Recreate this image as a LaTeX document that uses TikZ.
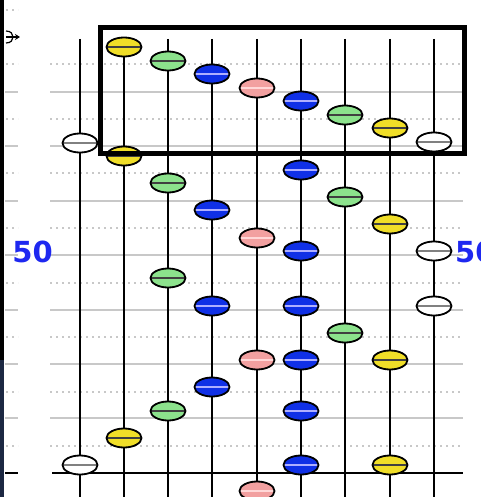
\documentclass[tikz,border=0pt]{standalone}
\usepackage{xcolor}
\usepackage{fontspec}
\newfontfamily\labelfont{DejaVu Sans}
\usepackage{tikz}
\usetikzlibrary{positioning,calc,arrows.meta,shapes.geometric}

\definecolor{beadyellow}{RGB}{240,222,40}
\definecolor{beadgreen}{RGB}{140,226,140}
\definecolor{beadblue}{RGB}{16,48,230}
\definecolor{beadpink}{RGB}{242,160,160}
\definecolor{stripeblue}{RGB}{175,175,255}
\definecolor{stripepink}{RGB}{255,215,215}
\definecolor{gridgray}{RGB}{200,200,200}
\definecolor{labelblue}{RGB}{30,40,240}
\definecolor{edgenavy}{RGB}{28,40,66}

\tikzset{
  bead/.style 2 args={ellipse, draw=black, line width=1.8pt, fill=#1,
    minimum width=35pt, minimum height=19pt, inner sep=0pt,
    path picture={\draw[#2, line width=1.8pt]
      (path picture bounding box.west) -- (path picture bounding box.east);}},
  ybead/.style={bead={beadyellow}{black!75}},
  gbead/.style={bead={beadgreen}{black!75}},
  bbead/.style={bead={beadblue}{stripeblue}},
  pbead/.style={bead={beadpink}{stripepink}},
  wbead/.style={bead={white}{gray}},
  gridline/.style={gridgray, line width=2pt},
  griddots/.style={gridgray, line width=2pt, dash pattern=on 2pt off 4pt},
  stringline/.style={black, line width=2pt},
  scalelabel/.style={labelblue, inner sep=0pt, draw=labelblue, line width=0.6pt,
    font=\labelfont\fontsize{31}{31}\selectfont, text=labelblue},
}

\begin{document}
\begin{tikzpicture}[x=1pt,y=-1pt]
		\useasboundingbox (0,0) rectangle (480,497);
		\clip (0,0) rectangle (480,497);
		% left edge of the window
		\fill[black] (0,0) rectangle (4,360);
		\fill[edgenavy] (0,360) rectangle (4,497);
		% marker
		\draw[line width=1.2pt,-{Stealth[length=5pt,width=6pt]}] (6,37) -- (20,37);
		\draw[line width=1.2pt] (6,31) .. controls (11,31) and (13,34) .. (13,37)
		.. controls (13,40) and (11,43) .. (6,43);
		% grid
		\foreach \y in {64,119,173,228,283,337,392,446}
		{\draw[griddots] (50,\y) -- (463,\y);
		 \draw[griddots] (6,\y) -- (18,\y);}
		\draw[griddots] (6,10) -- (18,10);
		\foreach \y in {92,146,201,255,310,364,418}
		{\draw[gridline] (50,\y) -- (463,\y);
		 \draw[gridline] (5,\y) -- (18,\y);}
		\draw[black, line width=2pt] (52,473) -- (463,473);
		\draw[black, line width=2pt] (5,473) -- (18,473);
		% strings
		\path (80,39) coordinate (s1) (124,39) coordinate (s2)
		(168,39) coordinate (s3) (212,39) coordinate (s4)
		(257,39) coordinate (s5) (301,39) coordinate (s6)
		(345,39) coordinate (s7) (390,39) coordinate (s8)
		(434,39) coordinate (s9);
		\foreach \s in {s1,s2,s3,s4,s5,s6,s7,s8,s9}
		\draw[stringline] (\s) -- ($(\s)+(0,470)$);
		% beads
		\node[wbead] (w1) at (80,143) {};
		\node[wbead] (w2) at (80,465) {};
		\node[ybead] (y1) at (124,47) {};
		\node[ybead] (y2) at (124,156) {};
		\node[ybead] (y3) at (124,438) {};
		\node[gbead] (g1) at (168,61) {};
		\node[gbead] (g2) at (168,183) {};
		\node[gbead] (g3) at (168,278) {};
		\node[gbead] (g4) at (168,411) {};
		\node[bbead] (b1) at (212,74) {};
		\node[bbead] (b2) at (212,210) {};
		\node[bbead] (b3) at (212,306) {};
		\node[bbead] (b4) at (212,387) {};
		\node[pbead] (p1) at (257,88) {};
		\node[pbead] (p2) at (257,238) {};
		\node[pbead] (p3) at (257,360) {};
		\node[pbead] (p4) at (257,491) {};
		\node[bbead] (b5) at (301,101) {};
		\node[bbead] (b6) at (301,170) {};
		\node[bbead] (b7) at (301,251) {};
		\node[bbead] (b8) at (301,306) {};
		\node[bbead] (b9) at (301,360) {};
		\node[bbead] (b10) at (301,411) {};
		\node[bbead] (b11) at (301,465) {};
		\node[gbead] (g5) at (345,115) {};
		\node[gbead] (g6) at (345,197) {};
		\node[gbead] (g7) at (345,333) {};
		\node[ybead] (y4) at (390,128) {};
		\node[ybead] (y5) at (390,224) {};
		\node[ybead] (y6) at (390,360) {};
		\node[ybead] (y7) at (390,465) {};
		\node[wbead] (w3) at (434,142) {};
		\node[wbead] (w4) at (434,251) {};
		\node[wbead] (w5) at (434,306) {};
		% selection box
		\draw[black, line width=5pt] (100.5,27.5) rectangle (464.5,153.5);
		% labels
		\node[labelblue, font=\labelfont\bfseries\fontsize{29}{29}\selectfont, inner sep=0pt] (lleft) at (32.5,252) {50};
		\node[labelblue, font=\labelfont\bfseries\fontsize{29}{29}\selectfont, inner sep=0pt, anchor=west] (lright) at (455,252) {50};
	\end{tikzpicture}
\end{document}
